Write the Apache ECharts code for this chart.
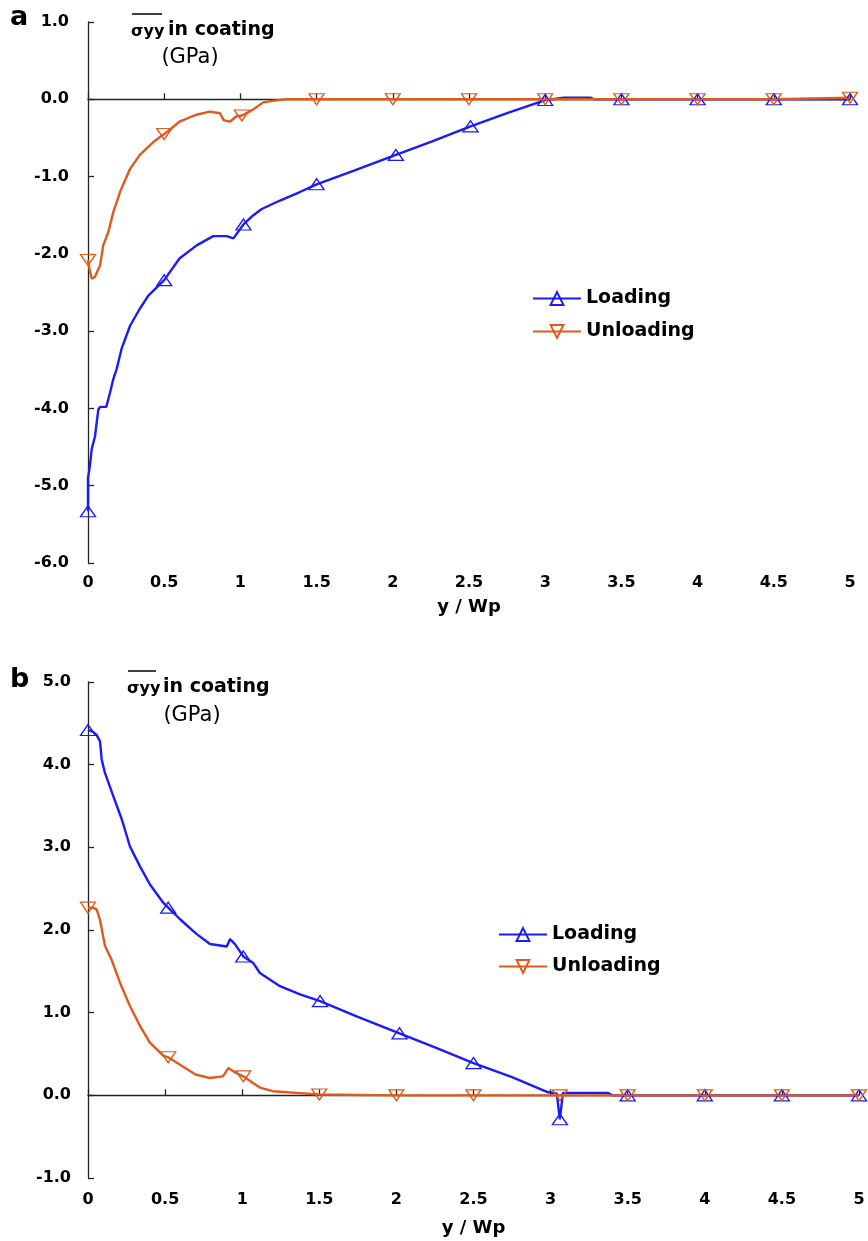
<!DOCTYPE html>
<html>
<head>
<meta charset="utf-8">
<script src="https://cdn.jsdelivr.net/npm/echarts@6/dist/echarts.min.js"></script>
<style>
html,body{margin:0;padding:0;background:#fff;}
#chart{width:868px;height:1241px;}
</style>
</head>
<body>
<div id="chart"></div>
<script>
// ---------- DATA ----------
const seriesNames = ['Loading', 'Unloading'];
const xTicks = [0, 0.5, 1, 1.5, 2, 2.5, 3, 3.5, 4, 4.5, 5];
const yTicksA = [-6, -5, -4, -3, -2, -1, 0, 1];
const yTicksB = [-1, 0, 1, 2, 3, 4, 5];

// Panel a : loading
const loadingA = [[0,-5.33],[0,-4.9],[0.012,-4.75],[0.024,-4.53],[0.046,-4.36],[0.068,-4.01],[0.08,-3.98],[0.12,-3.98],[0.144,-3.80],[0.166,-3.62],[0.188,-3.49],[0.22,-3.23],[0.276,-2.93],[0.34,-2.71],[0.396,-2.54],[0.5,-2.34],[0.6,-2.06],[0.713,-1.89],[0.822,-1.77],[0.91,-1.77],[0.954,-1.80],[1.02,-1.62],[1.085,-1.50],[1.14,-1.42],[1.26,-1.31],[1.39,-1.20],[1.5,-1.10],[1.75,-0.92],[2.02,-0.72],[2.25,-0.55],[2.51,-0.35],[2.75,-0.18],[3.0,-0.01],[3.05,0.0],[3.12,0.02],[3.3,0.02],[3.32,0],[3.5,0],[4,0],[4.5,0],[5,0]];
const loadingAMarkX = [0, 0.5, 1.02, 1.5, 2.02, 2.51, 3.0, 3.5, 4, 4.5, 5];
// Panel a : unloading
const unloadingA = [[0,-2.08],[0.01,-2.2],[0.024,-2.32],[0.045,-2.30],[0.057,-2.28],[0.079,-2.15],[0.1,-1.89],[0.133,-1.72],[0.166,-1.46],[0.21,-1.20],[0.276,-0.90],[0.34,-0.72],[0.43,-0.55],[0.5,-0.45],[0.60,-0.29],[0.71,-0.20],[0.80,-0.16],[0.866,-0.18],[0.89,-0.27],[0.93,-0.29],[0.975,-0.22],[1.01,-0.21],[1.06,-0.16],[1.11,-0.095],[1.15,-0.04],[1.21,-0.02],[1.3,0],[1.5,0],[2,0],[2.5,0],[3,0],[3.5,0],[4,0],[4.5,0],[5,0.02]];
const unloadingAMarkX = [0, 0.5, 1.01, 1.5, 2, 2.5, 3, 3.5, 4, 4.5, 5];

// Panel b : loading
const loadingB = [[0,4.42],[0.03,4.40],[0.056,4.36],[0.078,4.28],[0.089,4.06],[0.11,3.90],[0.164,3.62],[0.219,3.34],[0.272,3.01],[0.337,2.77],[0.402,2.55],[0.488,2.33],[0.52,2.27],[0.597,2.13],[0.705,1.95],[0.791,1.83],[0.90,1.80],[0.921,1.89],[0.953,1.83],[1.007,1.68],[1.072,1.60],[1.115,1.48],[1.245,1.32],[1.375,1.22],[1.505,1.14],[1.75,0.95],[2.02,0.75],[2.25,0.58],[2.5,0.39],[2.75,0.22],[2.98,0.04],[3.04,0.02],[3.06,-0.29],[3.08,0.03],[3.37,0.03],[3.4,0],[3.5,0],[4,0],[4.5,0],[5,0]];
const loadingBMarkX = [0, 0.52, 1.007, 1.505, 2.02, 2.5, 3.06, 3.5, 4, 4.5, 5];
// Panel b : unloading
const unloadingB = [[0,2.27],[0.03,2.27],[0.056,2.25],[0.077,2.13],[0.11,1.81],[0.153,1.64],[0.208,1.36],[0.272,1.08],[0.337,0.84],[0.40,0.64],[0.488,0.48],[0.52,0.46],[0.597,0.37],[0.70,0.25],[0.79,0.21],[0.875,0.23],[0.91,0.33],[0.96,0.27],[1.007,0.23],[1.07,0.15],[1.12,0.09],[1.2,0.05],[1.35,0.03],[1.5,0.01],[2,0],[2.5,0],[3.06,0],[3.5,0],[4,0],[4.5,0],[5,0]];
const unloadingBMarkX = [0, 0.52, 1.007, 1.5, 2, 2.5, 3.06, 3.5, 4, 4.5, 5];

// ---------- STYLE ----------
const BLUE = '#1a1aff';
const ORANGE = '#e05a1a';
const AXIS = '#222';
const FONT = 'DejaVu Sans';

function build(points, markX) {
  const used = new Set();
  return points.map(p => {
    const k = markX.findIndex((m, i) => !used.has(i) && Math.abs(m - p[0]) < 1e-9);
    if (k >= 0) { used.add(k); return { value: p }; }
    return { value: p, symbol: 'none' };
  });
}

function lineSeries(name, color, rot, data, idx) {
  return {
    name: name, type: 'line', xAxisIndex: idx * 2, yAxisIndex: idx,
    data: data, symbol: 'triangle', symbolSize: [15, 11], symbolRotate: rot,
    showSymbol: true, showAllSymbol: true, smooth: false, clip: false,
    lineStyle: { color: color, width: 2.4 },
    itemStyle: { color: 'rgba(255,255,255,0)', borderColor: color, borderWidth: 1.3 },
    emphasis: { disabled: true }, animation: false
  };
}

function xAxes(gi, labelMargin, nameGap) {
  return [{
    gridIndex: gi, type: 'value', min: 0, max: 5, interval: 0.5, position: 'bottom',
    axisLine: { show: true, onZero: true, lineStyle: { color: AXIS, width: 1.3 } },
    axisTick: { show: true, inside: true, length: 6, lineStyle: { color: AXIS, width: 1.3 } },
    axisLabel: { show: false }, splitLine: { show: false }
  }, {
    gridIndex: gi, type: 'value', min: 0, max: 5, interval: 0.5, position: 'bottom',
    axisLine: { show: false, onZero: false }, axisTick: { show: false }, splitLine: { show: false },
    axisLabel: { show: true, margin: labelMargin, color: '#000', fontFamily: FONT, fontWeight: 'bold', fontSize: 16,
      formatter: v => String(xTicks.find(t => Math.abs(t - v) < 1e-9) ?? v) },
    name: 'y / Wp', nameLocation: 'middle', nameGap: nameGap,
    nameTextStyle: { color: '#000', fontFamily: FONT, fontWeight: 'bold', fontSize: 18 }
  }];
}

function yAxis(gi, ticks, margin) {
  return {
    gridIndex: gi, type: 'value', min: ticks[0], max: ticks[ticks.length - 1], interval: 1,
    axisLine: { show: true, onZero: false, lineStyle: { color: AXIS, width: 1.3 } },
    axisTick: { show: true, inside: true, length: 6, lineStyle: { color: AXIS, width: 1.3 } },
    axisLabel: { margin: margin, color: '#000', fontFamily: FONT, fontWeight: 'bold', fontSize: 16,
      formatter: v => v.toFixed(1) },
    splitLine: { show: false }
  };
}

const legendText = { color: '#000', fontFamily: FONT, fontWeight: 'bold', fontSize: 19 };

const option = {
  backgroundColor: '#fff',
  animation: false,
  grid: [
    { left: 88, right: 18, top: 22, bottom: 678, containLabel: false, outerBoundsMode: 'none' },
    { left: 88, right: 9, top: 682, bottom: 63, containLabel: false, outerBoundsMode: 'none' }
  ],
  xAxis: [].concat(xAxes(0, 12, 35), xAxes(1, 14, 41)),
  yAxis: [yAxis(0, yTicksA, 19), yAxis(1, yTicksB, 17)],
  legend: [
    { left: 527, top: 284, orient: 'vertical', itemWidth: 48, itemHeight: 16, itemGap: 14,
      data: seriesNames, textStyle: legendText, selectedMode: false },
    { left: 493, top: 920, orient: 'vertical', itemWidth: 48, itemHeight: 16, itemGap: 13,
      data: seriesNames, textStyle: legendText, selectedMode: false }
  ],
  series: [
    lineSeries(seriesNames[0], BLUE, 0, build(loadingA, loadingAMarkX), 0),
    lineSeries(seriesNames[1], ORANGE, 180, build(unloadingA, unloadingAMarkX), 0),
    lineSeries(seriesNames[0], BLUE, 0, build(loadingB, loadingBMarkX), 1),
    lineSeries(seriesNames[1], ORANGE, 180, build(unloadingB, unloadingBMarkX), 1)
  ],
  graphic: [
    { type: 'text', left: 10, top: 4, style: { text: 'a', fontFamily: FONT, fontWeight: 'bold', fontSize: 27, fill: '#000' } },
    { type: 'text', left: 10, top: 666, style: { text: 'b', fontFamily: FONT, fontWeight: 'bold', fontSize: 27, fill: '#000' } },
    // panel a title
    { type: 'text', x: 131, y: 32, style: { text: 'σyy', fontFamily: FONT, fontWeight: 'bold', fontSize: 16, fill: '#000', verticalAlign: 'middle' } },
    { type: 'text', x: 168, y: 30, style: { text: 'in coating', fontFamily: FONT, fontWeight: 'bold', fontSize: 19, fill: '#000', verticalAlign: 'middle' } },
    { type: 'line', shape: { x1: 132, y1: 14, x2: 162, y2: 14 }, style: { stroke: '#000', lineWidth: 1.5 } },
    { type: 'text', x: 190, y: 58, style: { text: '(GPa)', fontFamily: FONT, fontSize: 21, fill: '#000', align: 'center', verticalAlign: 'middle' } },
    // panel b title
    { type: 'text', x: 127, y: 689, style: { text: 'σyy', fontFamily: FONT, fontWeight: 'bold', fontSize: 16, fill: '#000', verticalAlign: 'middle' } },
    { type: 'text', x: 163, y: 687, style: { text: 'in coating', fontFamily: FONT, fontWeight: 'bold', fontSize: 19, fill: '#000', verticalAlign: 'middle' } },
    { type: 'line', shape: { x1: 128, y1: 671, x2: 156, y2: 671 }, style: { stroke: '#000', lineWidth: 1.5 } },
    { type: 'text', x: 192, y: 716, style: { text: '(GPa)', fontFamily: FONT, fontSize: 21, fill: '#000', align: 'center', verticalAlign: 'middle' } }
  ]
};

const chart = echarts.init(document.getElementById('chart'), null, { renderer: 'canvas' });
chart.setOption(option);
</script>
</body>
</html>
